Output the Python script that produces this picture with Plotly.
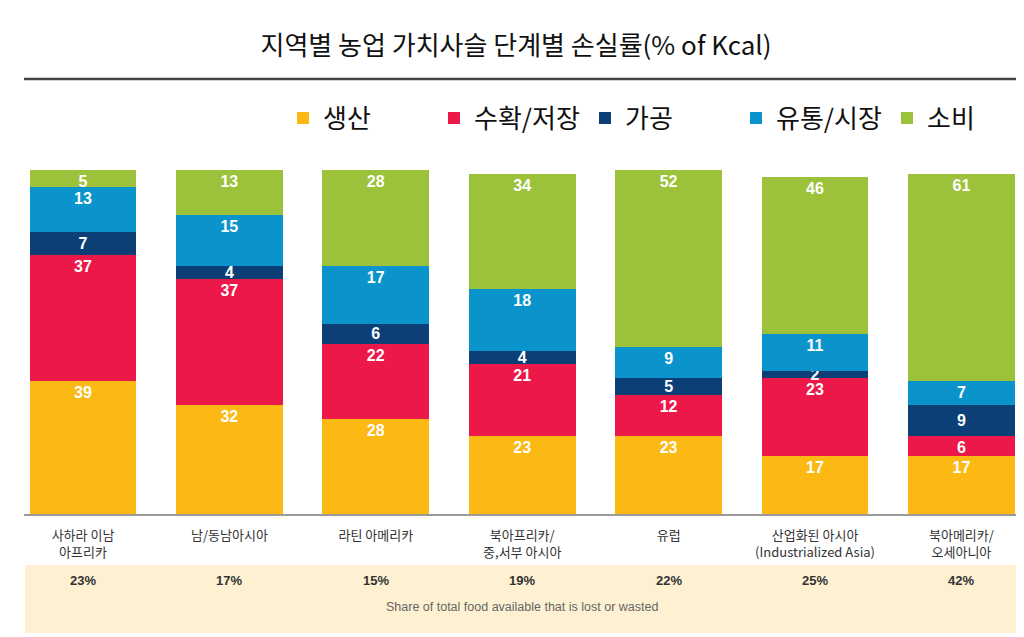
import plotly.graph_objects as go

regions = ["사하라 이남<br>아프리카", "남/동남아시아", "라틴 아메리카", "북아프리카/<br>중,서부 아시아",
           "유럽", "산업화된 아시아<br>(Industrialized Asia)", "북아메리카/<br>오세아니아"]
stages = ["생산", "수확/저장", "가공", "유통/시장", "소비"]
production = [39, 32, 28, 23, 23, 17, 17]
handling = [37, 37, 22, 21, 12, 23, 6]
processing = [7, 4, 6, 4, 5, 2, 9]
distribution = [13, 15, 17, 18, 9, 11, 7]
consumption = [5, 13, 28, 34, 52, 46, 61]
share_lost = ["23%", "17%", "15%", "19%", "22%", "25%", "42%"]
share_caption = "Share of total food available that is lost or wasted"
title = "지역별 농업 가치사슬 단계별 손실률(% of Kcal)"

series = [production, handling, processing, distribution, consumption]
colors = ["#FDB913", "#EC1849", "#0B3F76", "#0A94CB", "#9BC23A"]
anchors = ["end", "end", "middle", "end", "end"]

KR = "Noto Sans CJK KR, Noto Sans, sans-serif"
NUM = "Liberation Sans, Arial, sans-serif"

# page body has an 8px margin: figure is 1016x629 and placed at (8, 8)
W, H = 1016, 629
L, R, T, B = 16, 4, 142, 123
PH = H - T - B  # plot height in px
BASE = H - B    # baseline y in figure px


def py(y_fig):
    """figure-pixel y -> paper fraction"""
    return (BASE - y_fig) / PH


fig = go.Figure()
for name, vals, col, anc in zip(stages, series, colors, anchors):
    fig.add_trace(go.Bar(
        x=regions, y=vals, name=name, marker=dict(color=col, line=dict(width=0)),
        width=0.73, text=[str(v) for v in vals], textposition="inside",
        insidetextanchor=anc, constraintext="none", textangle=0,
        textfont=dict(family=NUM, size=16, color="white", weight="bold"),
        hoverinfo="skip",
    ))

fig.update_layout(
    barmode="stack",
    width=W, height=H,
    margin=dict(l=L, r=R, t=T, b=B, autoexpand=False),
    paper_bgcolor="white", plot_bgcolor="white",
    uniformtext=dict(minsize=16, mode="show"),
    title=dict(text=title, x=0.5, xanchor="center", y=1 - 38 / H, yanchor="middle",
               font=dict(family=KR, size=26, color="#111")),
    legend=dict(orientation="h", x=(275 - L) / (W - L - R), xanchor="left",
                y=py(110), yanchor="middle", traceorder="normal",
                entrywidth=106, entrywidthmode="pixels", itemwidth=30,
                font=dict(family=KR, size=26, color="#111"), bgcolor="rgba(0,0,0,0)"),
    showlegend=True,
)
fig.update_xaxes(range=[-0.403, 6.40], showgrid=False, zeroline=False,
                 showline=True, linecolor="#9a9a9a", linewidth=2,
                 ticks="outside", ticklen=8, tickcolor="rgba(0,0,0,0)",
                 tickfont=dict(family=KR, size=13, color="#333"), fixedrange=True)
fig.update_yaxes(range=[0, 107], visible=False, fixedrange=True)

# title rule
fig.add_shape(type="line", xref="paper", yref="paper", x0=0, x1=1,
              y0=py(71), y1=py(71), line=dict(color="#444", width=2.5))
# beige band
fig.add_shape(type="rect", xref="paper", yref="paper", x0=0.001, x1=1,
              y0=py(625), y1=py(557),
              fillcolor="#FDF1D2", line=dict(width=0), layer="below")

for r, s in zip(regions, share_lost):
    fig.add_annotation(x=r, xref="x", y=py(572), yref="paper", yanchor="middle",
                       text=f"<b>{s}</b>", showarrow=False,
                       font=dict(family=NUM, size=13, color="#333"))
fig.add_annotation(x=0.5, xref="paper", y=py(599), yref="paper", yanchor="middle",
                   text=share_caption, showarrow=False,
                   font=dict(family=NUM, size=12.5, color="#666"))

fig.write_html("out.html")
